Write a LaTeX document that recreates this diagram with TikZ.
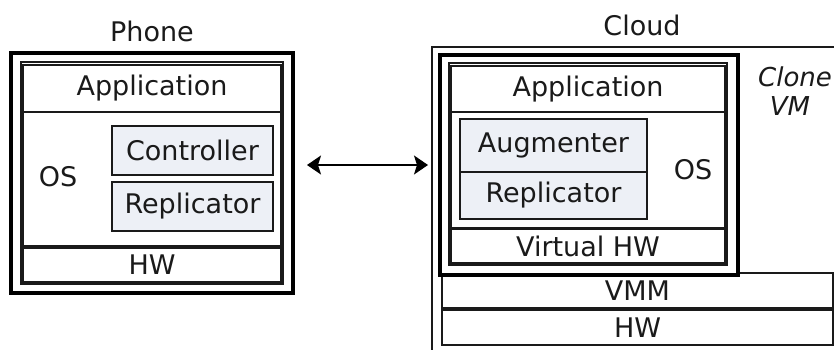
\documentclass[tikz,border=0pt]{standalone}
\usepackage{fontspec}
\setmainfont{DejaVu Sans}
\usetikzlibrary{arrows.meta}
\definecolor{subfill}{HTML}{EDF0F6}
\definecolor{ink}{HTML}{1A1A1A}
\begin{document}
\begin{tikzpicture}[x=1pt,y=-1pt,
  txt/.style={font=\fontsize{27}{32}\selectfont, text=ink, inner sep=0pt},
  itxt/.style={font=\fontsize{26}{30}\selectfont\itshape, text=ink, inner sep=0pt},
  box/.style={draw=ink, line width=1.3pt, rectangle, inner sep=0pt, font=\fontsize{27}{32}\selectfont, text=ink},
  sub/.style={box, fill=subfill},
  thickbox/.style={draw=black, line width=4.5pt, rectangle, inner sep=0pt},
  link/.style={draw=black, line width=1.6pt, {Stealth[length=14pt,width=19pt,inset=3pt]}-{Stealth[length=14pt,width=19pt,inset=3pt]}}]
\clip (0,0) rectangle (834,350);
\fill[white] (0,0) rectangle (834,350);
% ---------- Phone ----------
\node[txt] (phonelbl) at (152,31) {Phone};
\node[thickbox, minimum width=282pt, minimum height=240pt] (phone) at (152,173) {};
\node[box, minimum width=262pt, minimum height=222pt] (pframe) at (152,173) {};
\node[box, minimum width=258pt, minimum height=47pt] (papp) at (152,88.5) {Application};
\node[box, minimum width=258pt, minimum height=134pt] (pos) at (152,179) {};
\node[box, minimum width=258pt, minimum height=34pt] (phw) at (152,265) {HW};
\node[sub, minimum width=161pt, minimum height=49pt] (pctrl) at (192.5,150.5) {Controller};
\node[sub, minimum width=161pt, minimum height=49pt] (prep) at (192.5,206.5) {Replicator};
\node[txt] (posl) at (58,177) {OS};
% ---------- Cloud ----------
\node[txt] (cloudlbl) at (642,25) {Cloud};
\node[box, minimum width=468pt, minimum height=353pt] (cloud) at (666,223.5) {};
\node[box, minimum width=391pt, minimum height=35pt] (vmm) at (637.5,290.5) {VMM};
\node[box, minimum width=391pt, minimum height=35pt] (chw) at (637.5,327.5) {HW};
\node[thickbox, fill=white, minimum width=298pt, minimum height=220pt] (vm) at (589,165) {};
\node[box, minimum width=278pt, minimum height=202pt] (cframe) at (588,164) {};
\node[box, minimum width=274pt, minimum height=46pt] (capp) at (588,89) {Application};
\node[box, minimum width=274pt, minimum height=116pt] (cos) at (588,170) {};
\node[box, minimum width=274pt, minimum height=34pt] (vhw) at (588,246) {Virtual HW};
\node[sub, minimum width=187pt, minimum height=53pt] (aug) at (553.5,145.5) {Augmenter};
\node[sub, minimum width=187pt, minimum height=47pt] (crep) at (553.5,195.5) {Replicator};
\node[txt] (cosl) at (693,170) {OS};
\node[itxt] (clone) at (795,77) {Clone};
\node[itxt] (vml) at (790,106) {VM};
% ---------- Link ----------
\coordinate (la) at (307,165);
\coordinate (lb) at (428,165);
\draw[link] (la) -- (lb);
\end{tikzpicture}
\end{document}
